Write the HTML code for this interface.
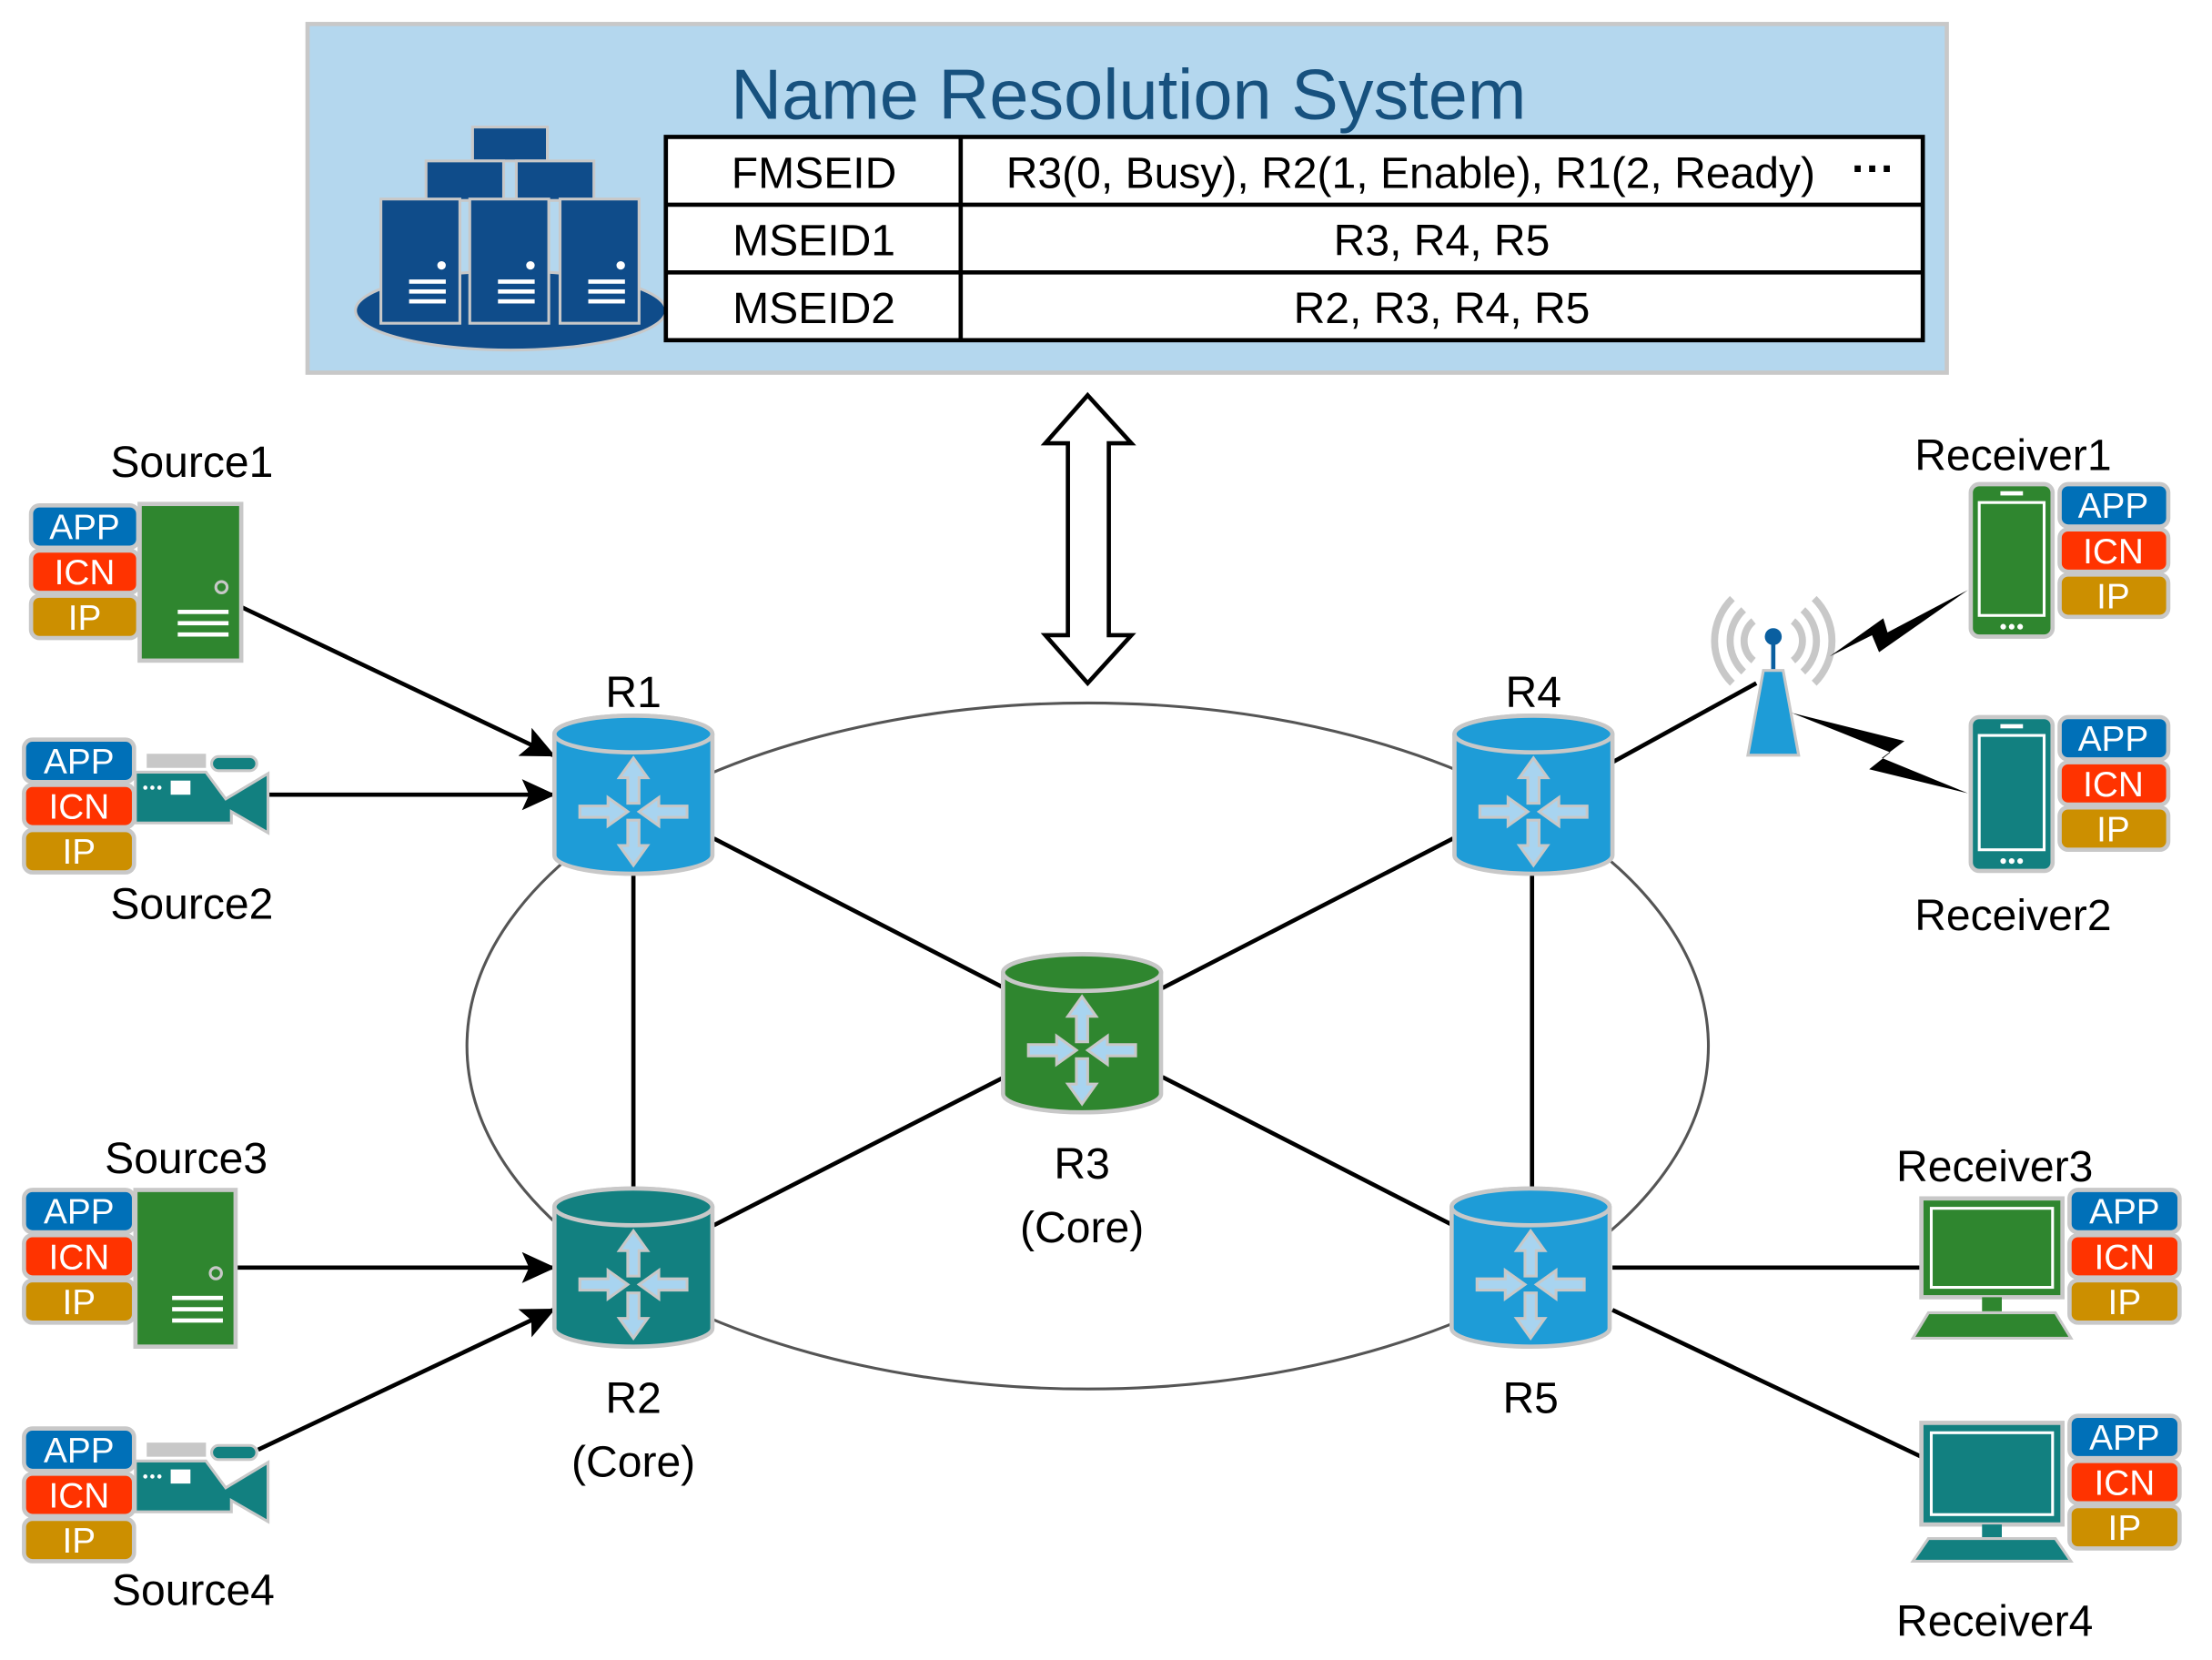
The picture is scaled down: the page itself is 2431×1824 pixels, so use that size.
<!DOCTYPE html>
<html><head><meta charset="utf-8"><style>
html,body{margin:0;padding:0;background:#fff}
svg{display:block}
text{font-family:"Liberation Sans Narrow","Liberation Sans",sans-serif}
.lb{font-size:31px;fill:#000;text-anchor:middle}
.bt{font-size:25px;fill:#fff;text-anchor:middle}
.tt{font-size:31px;fill:#000;text-anchor:middle}
</style></head><body>
<svg width="2431" height="1824" viewBox="0 0 1568 1176" preserveAspectRatio="none" xmlns="http://www.w3.org/2000/svg">
<defs>
<g id="rico" fill="#a8d4f0" stroke="#c8c8c8" stroke-width="2">
<path d="M0,-38 L-10,-24 -4,-24 -4,-6 4,-6 4,-24 10,-24 Z"/>
<path d="M0,38 L-10,24 -4,24 -4,6 4,6 4,24 10,24 Z"/>
<path d="M-4,0 L-18,-10 -18,-4 -38,-4 -38,4 -18,4 -18,10 Z"/>
<path d="M4,0 L18,-10 18,-4 38,-4 38,4 18,4 18,10 Z"/>
</g>
<marker id="ah" markerWidth="24" markerHeight="22" refX="22" refY="11" orient="auto" markerUnits="userSpaceOnUse" viewBox="0 0 24 22"><path d="M0,0 L24,11 L0,22 L5,11 Z" fill="#000"/></marker>
</defs>
<rect x="218" y="17" width="1162" height="247" fill="#b4d7ee" stroke="#c8c8c8" stroke-width="3"/>
<text x="800" y="84" font-size="50" fill="#17517e" text-anchor="middle">Name Resolution System</text>
<g stroke="#c8c8c8" stroke-width="2" fill="#0f4c8a">
<ellipse cx="362" cy="220" rx="110" ry="28"/>
<rect x="335" y="90" width="53" height="24"/>
<rect x="302" y="114" width="55" height="28"/>
<rect x="366" y="114" width="55" height="28"/>
<rect x="270" y="141" width="56" height="88"/>
<rect x="333" y="141" width="56" height="88"/>
<rect x="397" y="141" width="56" height="88"/>
</g>
<g fill="#fff"><circle cx="313" cy="188" r="3"/><circle cx="376" cy="188" r="3"/><circle cx="440" cy="188" r="3"/>
<rect x="290" y="198" width="26" height="3"/><rect x="290" y="205" width="26" height="3"/><rect x="290" y="212" width="26" height="3"/>
<rect x="353" y="198" width="26" height="3"/><rect x="353" y="205" width="26" height="3"/><rect x="353" y="212" width="26" height="3"/>
<rect x="417" y="198" width="26" height="3"/><rect x="417" y="205" width="26" height="3"/><rect x="417" y="212" width="26" height="3"/></g>
<rect x="472" y="97" width="891" height="144" fill="#fff" stroke="#000" stroke-width="3"/>
<line x1="472" y1="145" x2="1363" y2="145" stroke="#000" stroke-width="3"/>
<line x1="472" y1="193" x2="1363" y2="193" stroke="#000" stroke-width="3"/>
<line x1="681" y1="97" x2="681" y2="241" stroke="#000" stroke-width="3"/>
<text class="tt" x="577" y="133">FMSEID</text>
<text class="tt" x="577" y="181">MSEID1</text>
<text class="tt" x="577" y="229">MSEID2</text>
<text class="tt" x="1000" y="133">R3(0, Busy), R2(1, Enable), R1(2, Ready)</text>
<text class="tt" x="1328" y="130" font-weight="bold">···</text>
<text class="tt" x="1022" y="181">R3, R4, R5</text>
<text class="tt" x="1022" y="229">R2, R3, R4, R5</text>
<path d="M771,280 L802,314 L786,314 L786,450 L802,450 L771,484 L741,450 L757,450 L757,314 L741,314 Z" fill="#fff" stroke="#000" stroke-width="3"/>
<ellipse cx="771" cy="741" rx="440" ry="243" fill="none" stroke="#555" stroke-width="2"/>
<g stroke="#000" stroke-width="3">
<line x1="449" y1="615" x2="449" y2="845"/>
<line x1="1086" y1="615" x2="1086" y2="845"/>
<line x1="506" y1="594" x2="712" y2="700"/>
<line x1="506" y1="868" x2="712" y2="763"/>
<line x1="1030" y1="594" x2="824" y2="700"/>
<line x1="1030" y1="868" x2="824" y2="763"/>
<line x1="1143" y1="540" x2="1245" y2="484"/>
<line x1="1143" y1="898" x2="1362" y2="898"/>
<line x1="1143" y1="928" x2="1364" y2="1033"/>
<line x1="171" y1="430" x2="392" y2="535" marker-end="url(#ah)"/>
<line x1="190" y1="563" x2="392" y2="563" marker-end="url(#ah)"/>
<line x1="167" y1="898" x2="392" y2="898" marker-end="url(#ah)"/>
<line x1="183" y1="1027" x2="392" y2="928" marker-end="url(#ah)"/>
</g>
<g stroke="#c8c8c8" stroke-width="3">
<path d="M393,520 L393,606 A56,13 0 0 0 505,606 L505,520 A56,13 0 0 0 393,520 Z" fill="#1e9cd7"/><ellipse cx="449" cy="520" rx="56" ry="13" fill="#1e9cd7"/>
<path d="M1031,520 L1031,606 A56,13 0 0 0 1143,606 L1143,520 A56,13 0 0 0 1031,520 Z" fill="#1e9cd7"/><ellipse cx="1087" cy="520" rx="56" ry="13" fill="#1e9cd7"/>
<path d="M1029,855 L1029,941 A56,13 0 0 0 1141,941 L1141,855 A56,13 0 0 0 1029,855 Z" fill="#1e9cd7"/><ellipse cx="1085" cy="855" rx="56" ry="13" fill="#1e9cd7"/>
<path d="M393,855 L393,941 A56,13 0 0 0 505,941 L505,855 A56,13 0 0 0 393,855 Z" fill="#128080"/><ellipse cx="449" cy="855" rx="56" ry="13" fill="#128080"/>
<path d="M711,689 L711,775 A56,13 0 0 0 823,775 L823,689 A56,13 0 0 0 711,689 Z" fill="#2f862f"/><ellipse cx="767" cy="689" rx="56" ry="13" fill="#2f862f"/>
</g>
<use href="#rico" x="449" y="575"/>
<use href="#rico" x="1087" y="575"/>
<use href="#rico" x="1085" y="910"/>
<use href="#rico" x="449" y="910"/>
<use href="#rico" x="767" y="744"/>
<text class="lb" x="449" y="501">R1</text>
<text class="lb" x="1087" y="501">R4</text>
<text class="lb" x="767" y="835">R3</text><text class="lb" x="767" y="880">(Core)</text>
<text class="lb" x="449" y="1001">R2</text><text class="lb" x="449" y="1046">(Core)</text>
<text class="lb" x="1085" y="1001">R5</text>
<g stroke="#c8c8c8" stroke-width="3">
<rect x="22" y="358" width="76" height="30" rx="6" fill="#0070b8"/><rect x="22" y="390" width="76" height="30" rx="6" fill="#ff3300"/><rect x="22" y="422" width="76" height="30" rx="6" fill="#cc8f00"/>
<rect x="17" y="524" width="78" height="30" rx="6" fill="#0070b8"/><rect x="17" y="556" width="78" height="30" rx="6" fill="#ff3300"/><rect x="17" y="588" width="78" height="30" rx="6" fill="#cc8f00"/>
<rect x="17" y="843" width="78" height="30" rx="6" fill="#0070b8"/><rect x="17" y="875" width="78" height="30" rx="6" fill="#ff3300"/><rect x="17" y="907" width="78" height="30" rx="6" fill="#cc8f00"/>
<rect x="17" y="1012" width="78" height="30" rx="6" fill="#0070b8"/><rect x="17" y="1044" width="78" height="30" rx="6" fill="#ff3300"/><rect x="17" y="1076" width="78" height="30" rx="6" fill="#cc8f00"/>
<rect x="1460" y="343" width="77" height="30" rx="6" fill="#0070b8"/><rect x="1460" y="375" width="77" height="30" rx="6" fill="#ff3300"/><rect x="1460" y="407" width="77" height="30" rx="6" fill="#cc8f00"/>
<rect x="1460" y="508" width="77" height="30" rx="6" fill="#0070b8"/><rect x="1460" y="540" width="77" height="30" rx="6" fill="#ff3300"/><rect x="1460" y="572" width="77" height="30" rx="6" fill="#cc8f00"/>
<rect x="1467" y="843" width="78" height="30" rx="6" fill="#0070b8"/><rect x="1467" y="875" width="78" height="30" rx="6" fill="#ff3300"/><rect x="1467" y="907" width="78" height="30" rx="6" fill="#cc8f00"/>
<rect x="1467" y="1003" width="78" height="30" rx="6" fill="#0070b8"/><rect x="1467" y="1035" width="78" height="30" rx="6" fill="#ff3300"/><rect x="1467" y="1067" width="78" height="30" rx="6" fill="#cc8f00"/>
</g>
<text class="bt" x="60" y="382">APP</text><text class="bt" x="60" y="414">ICN</text><text class="bt" x="60" y="446">IP</text>
<text class="bt" x="56" y="548">APP</text><text class="bt" x="56" y="580">ICN</text><text class="bt" x="56" y="612">IP</text>
<text class="bt" x="56" y="867">APP</text><text class="bt" x="56" y="899">ICN</text><text class="bt" x="56" y="931">IP</text>
<text class="bt" x="56" y="1036">APP</text><text class="bt" x="56" y="1068">ICN</text><text class="bt" x="56" y="1100">IP</text>
<text class="bt" x="1498" y="367">APP</text><text class="bt" x="1498" y="399">ICN</text><text class="bt" x="1498" y="431">IP</text>
<text class="bt" x="1498" y="532">APP</text><text class="bt" x="1498" y="564">ICN</text><text class="bt" x="1498" y="596">IP</text>
<text class="bt" x="1506" y="867">APP</text><text class="bt" x="1506" y="899">ICN</text><text class="bt" x="1506" y="931">IP</text>
<text class="bt" x="1506" y="1027">APP</text><text class="bt" x="1506" y="1059">ICN</text><text class="bt" x="1506" y="1091">IP</text>
<g stroke="#c8c8c8" stroke-width="3">
<rect x="99" y="357" width="72" height="111" fill="#2f862f"/>
<rect x="96" y="843" width="71" height="111" fill="#2f862f"/>
</g>
<g fill="#fff"><rect x="126" y="432" width="36" height="3"/><rect x="126" y="440" width="36" height="3"/><rect x="126" y="448" width="36" height="3"/>
<rect x="122" y="918" width="36" height="3"/><rect x="122" y="926" width="36" height="3"/><rect x="122" y="934" width="36" height="3"/></g>
<circle cx="157" cy="416" r="4" fill="none" stroke="#c8c8c8" stroke-width="2"/>
<circle cx="153" cy="902" r="4" fill="none" stroke="#c8c8c8" stroke-width="2"/>
<g stroke="#c8c8c8" stroke-width="2">
<g>
<rect x="105" y="535" width="40" height="8" fill="#c8c8c8"/>
<rect x="150" y="536" width="32" height="10" rx="5" fill="#128080"/>
<path d="M96,547 L146,547 L160,566 L190,548 L190,590 L164,575 L164,583 L96,583 Z" fill="#128080"/>
</g>
<g transform="translate(0,488)">
<rect x="105" y="535" width="40" height="8" fill="#c8c8c8"/>
<rect x="150" y="536" width="32" height="10" rx="5" fill="#128080"/>
<path d="M96,547 L146,547 L160,566 L190,548 L190,590 L164,575 L164,583 L96,583 Z" fill="#128080"/>
</g>
</g>
<g fill="#fff"><rect x="121" y="553" width="14" height="10"/><rect x="121" y="1041" width="14" height="10"/>
<circle cx="103" cy="558" r="1.5"/><circle cx="108" cy="558" r="1.5"/><circle cx="113" cy="558" r="1.5"/>
<circle cx="103" cy="1046" r="1.5"/><circle cx="108" cy="1046" r="1.5"/><circle cx="113" cy="1046" r="1.5"/></g>
<g stroke="#c8c8c8" stroke-width="3">
<rect x="1397" y="343" width="58" height="108" rx="6" fill="#2f862f"/>
<rect x="1397" y="508" width="58" height="109" rx="6" fill="#128080"/>
</g>
<g fill="none" stroke="#fff" stroke-width="2">
<rect x="1403" y="356" width="46" height="80"/><rect x="1403" y="521" width="46" height="81"/></g>
<g fill="#fff"><rect x="1418" y="348" width="16" height="3"/><rect x="1418" y="513" width="16" height="3"/>
<circle cx="1420" cy="444" r="2"/><circle cx="1426" cy="444" r="2"/><circle cx="1432" cy="444" r="2"/>
<circle cx="1420" cy="610" r="2"/><circle cx="1426" cy="610" r="2"/><circle cx="1432" cy="610" r="2"/></g>
<g fill="none" stroke="#c8c8c8" stroke-width="5">
<path d="M1243,440 A18,18 0 0 0 1243,468"/><path d="M1271,440 A18,18 0 0 1 1271,468"/>
<path d="M1236,432 A30,30 0 0 0 1236,476"/><path d="M1278,432 A30,30 0 0 1 1278,476"/>
<path d="M1228,424 A42,42 0 0 0 1228,484"/><path d="M1286,424 A42,42 0 0 1 1286,484"/>
</g>
<line x1="1257" y1="452" x2="1257" y2="475" stroke="#0a5fa0" stroke-width="3"/>
<circle cx="1257" cy="451" r="6" fill="#0a5fa0"/>
<path d="M1250,475 L1264,475 L1275,535 L1239,535 Z" fill="#1e9cd7" stroke="#c8c8c8" stroke-width="2"/>
<path d="M1395,418 L1338,448 L1335,438 L1297,465 L1327,450 L1332,462 Z" fill="#000"/>
<path d="M1270,505 L1340,533 L1325,545 L1395,562 L1334,537 L1350,525 Z" fill="#000"/>
<g stroke="#c8c8c8" stroke-width="3">
<rect x="1362" y="849" width="100" height="70" fill="#2f862f"/>
<rect x="1362" y="1008" width="100" height="72" fill="#128080"/>
</g>
<g fill="none" stroke="#fff" stroke-width="2"><rect x="1369" y="856" width="86" height="56"/><rect x="1369" y="1015" width="86" height="58"/></g>
<rect x="1405" y="919" width="14" height="10" fill="#2f862f"/>
<rect x="1405" y="1080" width="14" height="9" fill="#128080"/>
<path d="M1367,930 L1457,930 L1468,948 L1356,948 Z" fill="#2f862f" stroke="#c8c8c8" stroke-width="2"/>
<path d="M1367,1090 L1457,1090 L1468,1106 L1356,1106 Z" fill="#128080" stroke="#c8c8c8" stroke-width="2"/>
<text class="lb" x="136" y="338">Source1</text>
<text class="lb" x="136" y="651">Source2</text>
<text class="lb" x="132" y="831">Source3</text>
<text class="lb" x="137" y="1137">Source4</text>
<text class="lb" x="1427" y="333">Receiver1</text>
<text class="lb" x="1427" y="659">Receiver2</text>
<text class="lb" x="1414" y="837">Receiver3</text>
<text class="lb" x="1414" y="1159">Receiver4</text>
</svg>
</body></html>
